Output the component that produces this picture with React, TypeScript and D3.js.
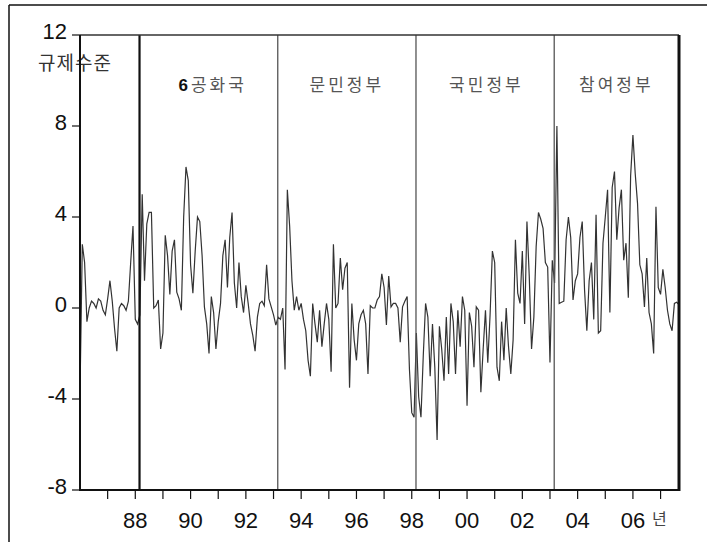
import React from "react";
import * as d3 from "d3";

// Monthly regulation index, 1986:01 .. 2007:09
const y1986 = [-3.7, 2.8, 2.0, -0.6, 0.0, 0.3, 0.2, 0.0, 0.4, 0.3, -0.1, -0.3];
const y1987 = [0.4, 1.2, 0.3, -0.9, -1.9, 0.0, 0.2, 0.1, -0.1, 0.3, 2.0, 3.6];
const y1988 = [-0.5, -0.7, -0.3, 5.0, 1.2, 3.7, 4.2, 4.2, 0.0, 0.1, 0.35, -1.8];
const y1989 = [-1.1, 3.2, 2.3, 0.6, 2.5, 3.0, 0.7, 0.4, -0.1, 4.0, 6.2, 5.6];
const y1990 = [1.9, 0.65, 2.5, 4.0, 3.8, 2.3, 0.05, -0.7, -2.0, 0.5, -0.2, -1.8];
const y1991 = [-0.6, 0.2, 2.3, 3.0, 0.9, 3.1, 4.2, 1.1, 0.0, 2.0, 0.5, -0.2];
const y1992 = [1.0, 0.2, -0.7, -1.2, -1.9, -0.4, 0.2, 0.3, 0.1, 1.9, 0.4, 0.05];
const y1993 = [-0.3, -0.75, -0.4, -0.5, 0.0, -2.7, 5.2, 3.6, 1.2, -0.1, 0.5, -0.1];
const y1994 = [0.2, -0.5, -1.0, -2.3, -3.0, 0.2, -0.7, -1.5, -0.1, -1.7, -0.7, 0.2];
const y1995 = [-0.5, -2.8, 2.8, 0.0, 0.2, 2.2, 0.8, 1.75, 2.0, -3.5, 0.2, -1.4];
const y1996 = [-2.3, -0.7, -0.3, -0.1, -0.7, -2.9, 0.1, 0.0, 0.0, 0.35, 0.5, 1.5];
const y1997 = [0.9, -0.75, 1.4, 0.05, 0.2, 0.2, 0.0, -1.5, 0.05, 0.3, 0.5, -2.7];
const y1998 = [-4.6, -4.8, -1.1, -3.9, -4.8, -2.1, 0.2, -0.4, -3.0, -0.7, -2.6, -5.8];
const y1999 = [-0.8, -1.8, -3.2, -0.4, -2.9, 0.2, -0.6, -2.9, -0.1, -1.7, 0.5, -0.1];
const y2000 = [-4.3, -0.2, -0.8, -2.6, 0.05, -0.1, -3.7, -1.8, -0.1, -2.4, -0.3, 2.5];
const y2001 = [2.0, -2.6, -3.2, -0.6, -2.3, 0.0, -1.7, -2.9, -1.4, 3.0, 0.65, 0.2];
const y2002 = [2.5, -0.7, 3.8, 1.4, -1.8, -0.4, 2.7, 4.2, 3.9, 3.5, 2.0, 1.8];
const y2003 = [-2.4, 2.1, 1.1, 8.0, 0.2, 0.25, 0.3, 3.0, 4.0, 3.1, 0.35, 1.2];
const y2004 = [1.5, 3.1, 3.8, 0.8, -1.0, 1.2, 2.0, -0.5, 4.1, -1.1, -1.0, 2.85];
const y2005 = [4.0, 5.2, -0.2, 5.3, 6.0, 3.0, 4.4, 5.2, 2.1, 2.85, 0.45, 5.8];
const y2006 = [7.6, 5.9, 4.6, 1.9, 1.5, 0.05, 2.2, -0.2, -0.7, -2.0, 4.45, 0.9];
const y2007 = [0.6, 1.7, 0.9, -0.1, -0.7, -1.0, 0.2, 0.25, 0.15];

const values = [
  ...y1986, ...y1987, ...y1988, ...y1989, ...y1990, ...y1991, ...y1992, ...y1993,
  ...y1994, ...y1995, ...y1996, ...y1997, ...y1998, ...y1999, ...y2000, ...y2001,
  ...y2002, ...y2003, ...y2004, ...y2005, ...y2006, ...y2007,
];
const startYear = 1986;

const yTicks = [12, 8, 4, 0, -4, -8];
const xTickYears = d3.range(1987, 2008);
const xLabelYears = [1988, 1990, 1992, 1994, 1996, 1998, 2000, 2002, 2004, 2006];
const regimeStarts = [1988.153, 1993.153, 1998.153, 2003.153];
const regimeNames = ["공화국", "문민정부", "국민정부", "참여정부"];
const regimeCenters = [1990.8, 1995.65, 2000.7, 2005.4];

const FONT = "'Liberation Sans', Arial, 'Noto Sans CJK KR', sans-serif";
const KFONT = "'Noto Sans CJK KR', 'Liberation Sans', sans-serif";

export default function App() {
  const W = 707, H = 542;
  const left = 80, right = 679, top = 35, bottom = 490;
  const x = d3.scaleLinear().domain([1986, 2007 + 8 / 12]).range([left, right]);
  const y = d3.scaleLinear().domain([-8, 12]).range([bottom, top]);
  const pts = values.map((v, i) => [startYear + i / 12, v] as [number, number]);
  const line = d3.line<[number, number]>().x(d => x(d[0])).y(d => y(d[1]));

  return (
    <svg width={W} height={H} style={{ position: "absolute", left: 0, top: 0, background: "#fff" }}>
      <rect x={0} y={0} width={W} height={H} fill="#fff" />
      {/* outer frame */}
      <line x1={9} y1={5} x2={W} y2={5} stroke="#111" strokeWidth={1.5} />
      <line x1={9} y1={5} x2={9} y2={H} stroke="#111" strokeWidth={1.5} />

      {/* y label */}
      <text x={38} y={70} fontFamily={KFONT} fontSize={19} fill="#333" letterSpacing={1}>규제수준</text>

      {/* regime labels */}
      {regimeNames.map((n, i) => (
        <text key={n} x={x(regimeCenters[i])} y={91} textAnchor="middle" fontFamily={KFONT}
          fontSize={17} fill="#555" letterSpacing={3}>
          {i === 0 ? <tspan fontFamily={FONT} fontWeight="bold" fill="#111">6</tspan> : null}
          {n}
        </text>
      ))}

      {/* series */}
      <path d={line(pts) || ""} fill="none" stroke="#333" strokeWidth={1.2} strokeLinejoin="miter" />

      {/* regime dividers */}
      {regimeStarts.map((t, i) => (
        <line key={t} x1={x(t)} x2={x(t)} y1={top} y2={bottom}
          stroke={i === 0 ? "#111" : "#555"} strokeWidth={i === 0 ? 2.2 : 1.3} />
      ))}

      {/* frame of plot */}
      <line x1={left} x2={right} y1={top} y2={top} stroke="#333" strokeWidth={1.5} />
      <line x1={right} x2={right} y1={top} y2={bottom + 1} stroke="#111" strokeWidth={3} />
      <line x1={left} x2={right + 1} y1={bottom} y2={bottom} stroke="#111" strokeWidth={2} />
      <line x1={left} x2={left} y1={top} y2={bottom + 1} stroke="#111" strokeWidth={2} />

      {/* y ticks */}
      {yTicks.map(t => (
        <g key={t}>
          <line x1={left - 8} x2={left} y1={y(t)} y2={y(t)} stroke="#111" strokeWidth={1.2} />
          <text x={67} y={y(t) + 4} textAnchor="end" fontFamily={FONT} fontSize={22} fill="#111">{t}</text>
        </g>
      ))}

      {/* x ticks */}
      {xTickYears.map(yr => (
        <line key={yr} x1={x(yr)} x2={x(yr)} y1={bottom} y2={bottom + 9} stroke="#111" strokeWidth={1.2} />
      ))}
      {xLabelYears.map(yr => (
        <text key={yr} x={x(yr)} y={528} textAnchor="middle" fontFamily={FONT} fontSize={22} fill="#111">
          {String(yr % 100).padStart(2, "0")}
        </text>
      ))}
      <text x={652} y={525} fontFamily={KFONT} fontSize={16} fill="#444">년</text>
    </svg>
  );
}
